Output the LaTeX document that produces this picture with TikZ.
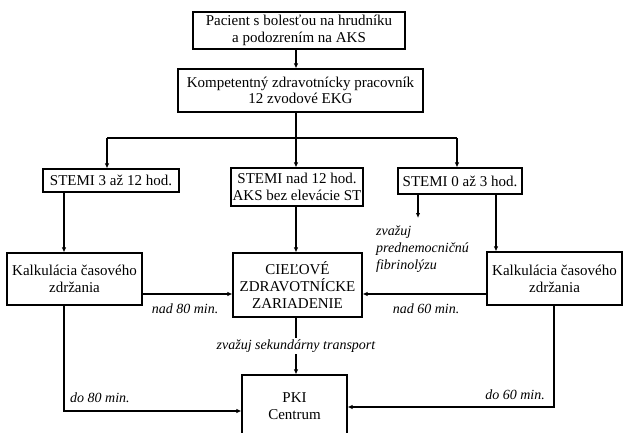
\documentclass[tikz,border=0pt]{standalone}
\usepackage{fontspec}
\setmainfont{Liberation Serif}
\newfontfamily\tnr{Liberation Serif}
\usetikzlibrary{arrows.meta}
\begin{document}
\begin{tikzpicture}[x=1pt,y=-1pt,
  box/.style={draw, line width=1.1pt, align=center, inner sep=0pt, font=\tnr\fontsize{15}{16.7}\selectfont},
  conn/.style={line width=1.1pt},
  arr/.style={conn, -{Latex[length=5pt,width=4.5pt]}},
  lab/.style={font=\tnr\fontsize{14}{17}\selectfont\itshape, inner sep=0pt}]
\useasboundingbox (0,0) rectangle (623,432);
\node[box, minimum width=212pt, minimum height=37pt] (top) at (299,30.5) {Pacient s bolesťou na hrudníku\\a podozrením na AKS};
\node[box, minimum width=245pt, minimum height=43pt] (ekg) at (300.5,90.5) {Kompetentný zdravotnícky pracovník\\12 zvodové EKG};
\node[box, minimum width=136pt, minimum height=23pt] (s3) at (111,180.5) {STEMI 3 až 12 hod.};
\node[box, minimum width=132pt, minimum height=38pt] (s12) at (297,187) {STEMI nad 12 hod.\\AKS bez elevácie ST};
\node[box, minimum width=124pt, minimum height=26pt] (s0) at (460,181) {STEMI 0 až 3 hod.};
\node[box, minimum width=135pt, minimum height=52pt] (lk) at (74.5,279) {Kalkulácia časového\\zdržania};
\node[box, minimum width=129pt, minimum height=64pt] (cz) at (297.5,285) {CIEĽOVÉ\\ZDRAVOTNÍCKE\\ZARIADENIE};
\node[box, minimum width=135pt, minimum height=53pt] (rk) at (554.5,278.5) {Kalkulácia časového\\zdržania};
\node[box, minimum width=105pt, minimum height=62pt] (pki) at (294.5,406) {PKI\\Centrum};
\coordinate (jx) at (296,138);
\coordinate (jl) at (107,138);
\coordinate (jr) at (457,138);
\draw[arr] (top.south -| jx) -- (jx |- ekg.north);
\draw[conn] (ekg.south -| jx) -- (jx);
\draw[conn] (jl) -- (jr);
\draw[arr] (jl) -- (jl |- s3.north);
\draw[arr] (jx) -- (jx |- s12.north);
\draw[arr] (jr) -- (jr |- s0.north);
\coordinate (xl) at (64,0);
\draw[arr] (xl |- s3.south) -- (xl |- lk.north);
\draw[arr] (jx |- s12.south) -- (jx |- cz.north);
\coordinate (xf) at (418,218);
\draw[arr] (xf |- s0.south) -- (xf);
\node[lab, anchor=north west, align=left] (fib) at (376,226) {zvažuj\\prednemocničnú\\fibrinolýzu};
\coordinate (xr) at (496,0);
\draw[arr] (xr |- s0.south) -- (xr |- rk.north);
\coordinate (yh) at (0,294);
\draw[arr] (lk.east |- yh) -- (cz.west |- yh);
\draw[arr] (rk.west |- yh) -- (cz.east |- yh);
\node[lab] (n80) at (185,309) {nad 80 min.};
\node[lab] (n60) at (426,309) {nad 60 min.};
\draw[arr] (jx |- cz.south) -- (jx |- pki.north) node[midway, lab, fill=white, inner ysep=2pt] (sek) {zvažuj sekundárny transport};
\coordinate (bl) at (64,411);
\draw[arr] (xl |- lk.south) -- (bl) -- (pki.west |- bl);
\node[lab, anchor=west] (d80) at (70,398) {do 80 min.};
\coordinate (br) at (554,407);
\draw[arr] (rk.south -| br) -- (br) -- (pki.east |- br);
\node[lab, anchor=east] (d60) at (545,395) {do 60 min.};
\end{tikzpicture}
\end{document}
